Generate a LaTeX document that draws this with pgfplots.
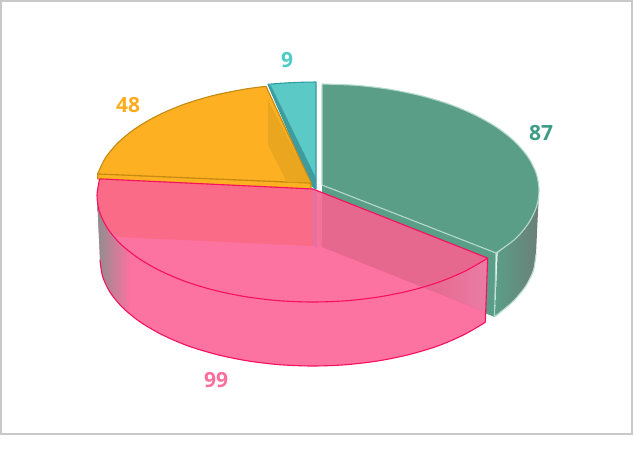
\documentclass[border=0pt]{standalone}
\usepackage{pgfplots}
\pgfplotsset{compat=1.18}
\usepackage{fontspec}
\setmainfont{Open Sans}
\definecolor{grn}{HTML}{5A9E87}
\definecolor{grnl}{HTML}{B5DACB}
\definecolor{grnd}{HTML}{6C7F78}
\definecolor{tea}{HTML}{5BCAC6}
\definecolor{teas}{HTML}{2F9E9E}
\definecolor{teab}{HTML}{3F9C9E}
\definecolor{org}{HTML}{FCB022}
\definecolor{orgs}{HTML}{C58A12}
\definecolor{orgd}{HTML}{E9A61E}
\definecolor{pnk}{HTML}{FC72A0}
\definecolor{pnks}{HTML}{F80F5F}
\definecolor{pnkw}{HTML}{FA6B88}
\definecolor{mauve}{HTML}{E6688F}
\definecolor{mauvel}{HTML}{EA7CA4}
\definecolor{bandA}{HTML}{E8709A}
\definecolor{bandB}{HTML}{F4739D}
\definecolor{sideg}{HTML}{8E8E8E}
\begin{document}
\begin{tikzpicture}
\begin{axis}[
  width=634pt,height=448pt,scale only axis,
  xmin=0,xmax=634,ymin=0,ymax=448,y dir=reverse,
  axis lines=none,clip=false,no markers,
  every axis plot/.append style={line join=round,line width=1.1pt,solid},
]
% canvas and frame
\addplot[fill=white,draw=none] coordinates {(0,0)(634,0)(634,448)(0,448)} -- cycle;
\addplot[draw={rgb,255:red,200;green,200;blue,200},line width=2pt,line join=miter] coordinates {(1,1)(632,1)(632,434)(1,434)} -- cycle;
% green 87
\addplot[fill=grn,draw=none] coordinates {(322,185)(496,253)(494.5,317)(322,247)} -- cycle;
\addplot[draw=none,left color=grn,middle color=grn,right color=grnd] coordinates {(539,190.5)(536.4,207.1)(528.4,223.4)(515.3,238.9)(497.6,253.1)(495.1,315.7)(512.7,301.7)(525.5,286.4)(533.4,270.4)(536,254)} -- cycle;
\addplot[fill=grn,draw=none] coordinates {(322,84)(355.9,85.3)(389,89.2)(420.5,95.6)(449.6,104.3)(475.4,115.2)(497.6,127.9)(515.3,142.1)(528.4,157.6)(536.4,173.9)(539,190.5)(536.4,207.1)(528.4,223.4)(515.3,238.9)(496,253)(322,185)} -- cycle;
\addplot[fill=grn,draw=none,smooth] coordinates {(355.9,85.3)(389,89.2)(420.5,95.6)(449.6,104.3)(475.4,115.2)(497.6,127.9)(515.3,142.1)(528.4,157.6)(536.4,173.9)(539,190.5)(536.4,207.1)(528.4,223.4)(515.3,238.9)};
\addplot[draw=grnl,smooth] coordinates {(322,84)(355.9,85.3)(389,89.2)(420.5,95.6)(449.6,104.3)(475.4,115.2)(497.6,127.9)(515.3,142.1)(528.4,157.6)(536.4,173.9)(539,190.5)(536.4,207.1)(528.4,223.4)(515.3,238.9)(496,253)};
\addplot[draw=grnl] coordinates {(322,84)(322,185)(496,253)(494.5,317)};
\addplot[draw=grnl,smooth] coordinates {(494.5,317)(512.7,301.7)(525.5,286.4)(533.4,270.4)(536,254)};
% teal 9
\addplot[fill=tea,draw=teas] coordinates {(268,84.3)(280,83.3)(292,82.6)(304,82.2)(316,82)(316,189)(312,186)} -- cycle;
\addplot[fill=teab,draw=none] coordinates {(268,84.3)(271,86)(316,178)(316,189)(312,186)} -- cycle;
% orange 48
\addplot[fill=org,draw=orgs] coordinates {(97.6,173.9)(97.6,179)(311,189)(311,183)} -- cycle;
\addplot[fill=org,draw=none] coordinates {(97.6,173.9)(105.6,157.6)(118.6,142.1)(136.3,127.9)(158.3,115.2)(184,104.3)(212.9,95.6)(244.3,89.2)(266,86.3)(311,183)} -- cycle;
\addplot[fill=org,draw=none,smooth] coordinates {(105.6,157.6)(118.6,142.1)(136.3,127.9)(158.3,115.2)(184,104.3)(212.9,95.6)(244.3,89.2)};
\addplot[draw=orgs,smooth] coordinates {(97.6,173.9)(105.6,157.6)(118.6,142.1)(136.3,127.9)(158.3,115.2)(184,104.3)(212.9,95.6)(244.3,89.2)(266,86.3)};
\addplot[draw=orgs] coordinates {(266,86.3)(311,183)(97.6,173.9)};
\addplot[fill=orgd,draw=none] coordinates {(268,100)(268,145)(287,182.3)(310.5,182.3)} -- cycle;
% pink 99, base
\addplot[fill=pnk,draw=none] coordinates {(99.6,178.9)(313,189)(487.7,258.1)(485.3,322.3)(463.6,334.9)(438.2,345.8)(409.7,354.4)(378.8,360.8)(346.2,364.7)(313,366)(279.8,364.7)(247.2,360.8)(216.3,354.4)(187.8,345.8)(162.4,334.9)(140.7,322.3)(123.2,308.1)(110.4,292.8)(102.6,276.5)(100,260)(97,195.5)} -- cycle;
\addplot[fill=pnk,draw=none,smooth] coordinates {(463.6,334.9)(438.2,345.8)(409.7,354.4)(378.8,360.8)(346.2,364.7)(313,366)(279.8,364.7)(247.2,360.8)(216.3,354.4)(187.8,345.8)(162.4,334.9)};
% walls seen through the pink
\addplot[fill=pnkw,draw=none] coordinates {(99.6,178.9)(313,189)(313,246)(118,237)(107.6,228.4)(99.6,212.1)(97,195.5)} -- cycle;
\addplot[fill=mauve,draw=none] coordinates {(322,192.5)(487.7,258.1)(485.3,312)(322,247)} -- cycle;
\addplot[draw=none,left color=mauve,right color=mauvel] coordinates {(425,288)(440,281.7)(465.7,270.8)(487.7,258.1)(485.3,312)} -- cycle;
\addplot[fill=bandA,draw=none] coordinates {(312,188.6)(317,190.6)(317,248)(312,243)} -- cycle;
\addplot[fill=bandB,draw=none] coordinates {(317,190.6)(322,192.5)(322,247)(317,245)} -- cycle;
% pink side shading at the left
\addplot[draw=none,left color=sideg,middle color=pnk!85!gray,right color=pnk] coordinates {(97,195.5)(99.6,212.1)(107.6,228.4)(120.5,243.9)(130,251)(130,313.6)(123.2,308.1)(110.4,292.8)(102.6,276.5)(100,260)} -- cycle;
% pink outlines
\addplot[draw=pnks,smooth] coordinates {(487.7,258.1)(465.7,270.8)(440,281.7)(411.1,290.4)(379.7,296.8)(346.7,300.7)(313,302)(279.3,300.7)(246.3,296.8)(214.9,290.4)(186,281.7)(160.3,270.8)(138.3,258.1)(120.5,243.9)(107.6,228.4)(99.6,212.1)(97,195.5)(99.6,178.9)};
\addplot[draw=pnks] coordinates {(99.6,178.9)(313,189)(487.7,258.1)(485.3,322.3)};
\addplot[draw=pnks,smooth] coordinates {(485.3,322.3)(463.6,334.9)(438.2,345.8)(409.7,354.4)(378.8,360.8)(346.2,364.7)(313,366)(279.8,364.7)(247.2,360.8)(216.3,354.4)(187.8,345.8)(162.4,334.9)(140.7,322.3)(123.2,308.1)(110.4,292.8)(102.6,276.5)(100,260)};
% value labels
\node[text={rgb,255:red,63;green,155;blue,133},font=\fontsize{21}{24}\selectfont\bfseries] at (axis cs:541,133) {87};
\node[text={rgb,255:red,78;green,203;blue,198},font=\fontsize{21}{24}\selectfont\bfseries] at (axis cs:287,60) {9};
\node[text={rgb,255:red,255;green,173;blue,31},font=\fontsize{21}{24}\selectfont\bfseries] at (axis cs:128,105) {48};
\node[text={rgb,255:red,251;green,111;blue,157},font=\fontsize{21}{24}\selectfont\bfseries] at (axis cs:216,380) {99};
\end{axis}
\end{tikzpicture}
\end{document}
